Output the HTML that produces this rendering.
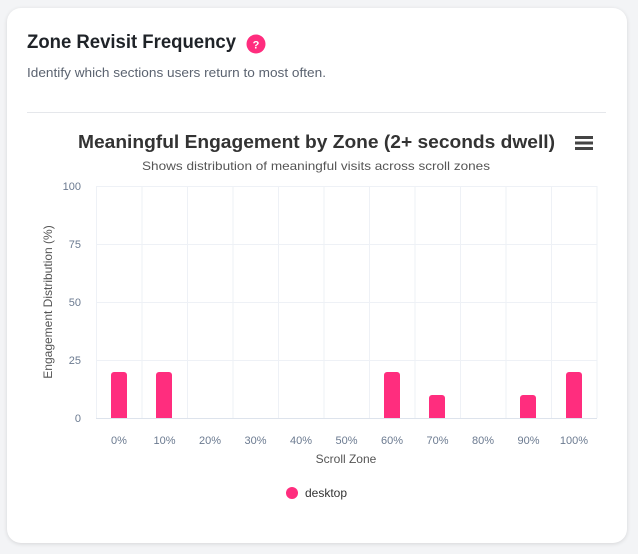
<!DOCTYPE html>
<html><head><style>
body{margin:0;width:638px;height:554px;background:#f3f4f6;font-family:"Liberation Sans",sans-serif;overflow:hidden}
.card{position:absolute;left:7px;top:8px;width:620px;height:535px;background:#fff;border-radius:14px;box-shadow:0 1px 4px rgba(0,0,0,0.12)}
</style></head><body>
<div class="card"></div>
<svg width="638" height="554" style="position:absolute;left:0;top:0" font-family="Liberation Sans, sans-serif">
<text x="27" y="48" font-size="19" font-weight="bold" fill="#1f2328" textLength="209" lengthAdjust="spacingAndGlyphs">Zone Revisit Frequency</text>
<circle cx="256" cy="44" r="9.5" fill="#ff2d7e"/>
<text x="256" y="48.5" font-size="11" font-weight="bold" fill="#fff" text-anchor="middle">?</text>
<text x="27" y="77" font-size="13" fill="#5b6370" textLength="299" lengthAdjust="spacingAndGlyphs">Identify which sections users return to most often.</text>
<line x1="27" y1="112.5" x2="606" y2="112.5" stroke="#e5e7eb"/>
<text x="78" y="148" font-size="18.5" font-weight="bold" fill="#333" textLength="477" lengthAdjust="spacingAndGlyphs">Meaningful Engagement by Zone (2+ seconds dwell)</text>
<g fill="#444"><rect x="575" y="136" width="18" height="3"/><rect x="575" y="141.5" width="18" height="3"/><rect x="575" y="147" width="18" height="3"/></g>
<text x="142" y="170" font-size="12" fill="#555" textLength="348" lengthAdjust="spacingAndGlyphs">Shows distribution of meaningful visits across scroll zones</text>
<g stroke="#eef1f6" stroke-width="1">
<line x1="96" y1="186.5" x2="597" y2="186.5"/><line x1="96" y1="244.5" x2="597" y2="244.5"/><line x1="96" y1="302.5" x2="597" y2="302.5"/><line x1="96" y1="360.5" x2="597" y2="360.5"/>
<line x1="96.5" y1="186" x2="96.5" y2="418"/><line x1="142" y1="186" x2="142" y2="418"/><line x1="187.5" y1="186" x2="187.5" y2="418"/><line x1="233" y1="186" x2="233" y2="418"/><line x1="278.5" y1="186" x2="278.5" y2="418"/><line x1="324" y1="186" x2="324" y2="418"/><line x1="369.5" y1="186" x2="369.5" y2="418"/><line x1="415" y1="186" x2="415" y2="418"/><line x1="460.5" y1="186" x2="460.5" y2="418"/><line x1="506" y1="186" x2="506" y2="418"/><line x1="551.5" y1="186" x2="551.5" y2="418"/><line x1="597" y1="186" x2="597" y2="418"/>
</g>
<line x1="96" y1="418.5" x2="597" y2="418.5" stroke="#dde3ec"/>
<g fill="#6b7a90" font-size="11" text-anchor="end">
<text x="81" y="190">100</text><text x="81" y="248">75</text><text x="81" y="306">50</text><text x="81" y="364">25</text><text x="81" y="422">0</text>
</g>
<g fill="#ff2d7e">
<path d="M111 418V375a3 3 0 0 1 3-3h10a3 3 0 0 1 3 3V418z"/>
<path d="M156 418V375a3 3 0 0 1 3-3h10a3 3 0 0 1 3 3V418z"/>
<path d="M384 418V375a3 3 0 0 1 3-3h10a3 3 0 0 1 3 3V418z"/>
<path d="M429 418V398a3 3 0 0 1 3-3h10a3 3 0 0 1 3 3V418z"/>
<path d="M520 418V398a3 3 0 0 1 3-3h10a3 3 0 0 1 3 3V418z"/>
<path d="M566 418V375a3 3 0 0 1 3-3h10a3 3 0 0 1 3 3V418z"/>
</g>
<g fill="#6b7a90" font-size="11" text-anchor="middle">
<text x="119" y="444">0%</text><text x="164.5" y="444">10%</text><text x="210" y="444">20%</text><text x="255.5" y="444">30%</text><text x="301" y="444">40%</text><text x="346.5" y="444">50%</text><text x="392" y="444">60%</text><text x="437.5" y="444">70%</text><text x="483" y="444">80%</text><text x="528.5" y="444">90%</text><text x="574" y="444">100%</text>
</g>
<text x="346" y="463" font-size="12" fill="#555" text-anchor="middle">Scroll Zone</text>
<text transform="translate(52,302) rotate(-90)" font-size="12" fill="#555" text-anchor="middle">Engagement Distribution (%)</text>
<circle cx="292" cy="493" r="6" fill="#ff2d7e"/>
<text x="305" y="497" font-size="12" fill="#333">desktop</text>
</svg>
</body></html>
